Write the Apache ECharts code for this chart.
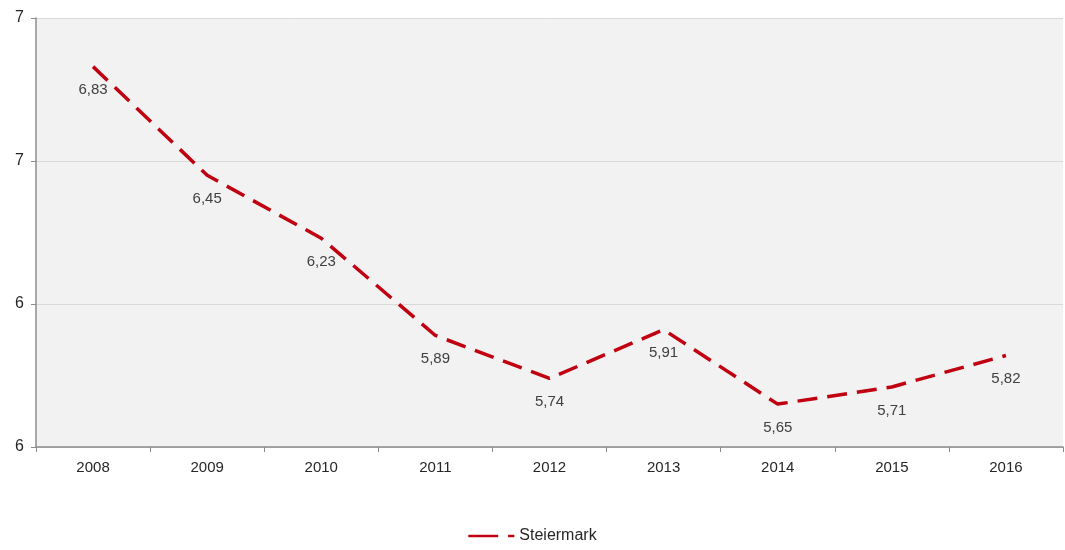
<!DOCTYPE html>
<html><head><meta charset="utf-8">
<script src="https://cdn.jsdelivr.net/npm/echarts@6/dist/echarts.min.js"></script>
<style>html,body{margin:0;padding:0;background:#fff}#c{width:1065px;height:550px}</style>
</head><body><div id="c"></div>
<script>
const categories = ['2008','2009','2010','2011','2012','2013','2014','2015','2016'];
const steiermark = [6.83, 6.45, 6.23, 5.89, 5.74, 5.91, 5.65, 5.71, 5.82];
const seriesName = 'Steiermark';
const chart = echarts.init(document.getElementById('c'));
chart.setOption({
  animation: false,
  textStyle: {fontFamily: 'Liberation Sans, Arial, sans-serif'},
  grid: {left: 36, right: 2, top: 18, bottom: 103, show: true, backgroundColor: '#f2f2f2', borderWidth: 0},
  legend: {
    bottom: 1, left: 'center', itemWidth: 46, itemHeight: 10, itemGap: 4,
    textStyle: {fontSize: 16, color: '#262626'},
    data: [{name: seriesName, icon: 'path://M0,0 L12,0 L12,1 L0,1 Z M16,0 L18.5,0 L18.5,1 L16,1 Z'}]
  },
  xAxis: {
    type: 'category', data: categories, boundaryGap: true,
    axisLine: {lineStyle: {color: '#8c8c8c', width: 1.5}},
    axisTick: {show: true, length: 5, lineStyle: {color: '#8c8c8c'}},
    axisLabel: {fontSize: 15, color: '#262626', margin: 13}
  },
  yAxis: {
    type: 'value', min: 5.5, max: 7.0, interval: 0.5,
    axisLine: {show: true, lineStyle: {color: '#8c8c8c', width: 1.5}},
    axisTick: {show: true, length: 5, lineStyle: {color: '#8c8c8c'}},
    axisLabel: {fontSize: 16, color: '#262626', margin: 12, formatter: v => String(Math.round(v))},
    splitLine: {lineStyle: {color: '#d9d9d9', width: 1}}
  },
  series: [{
    name: seriesName, type: 'line', data: steiermark,
    symbol: 'circle', symbolSize: 0, showSymbol: true,
    lineStyle: {color: '#c00010', width: 3.5, type: [20, 10]},
    itemStyle: {color: '#c00010'},
    label: {show: true, position: 'bottom', distance: 16, fontSize: 15, color: '#404040',
      formatter: p => p.value.toFixed(2).replace('.', ',')}
  }]
});
</script></body></html>
